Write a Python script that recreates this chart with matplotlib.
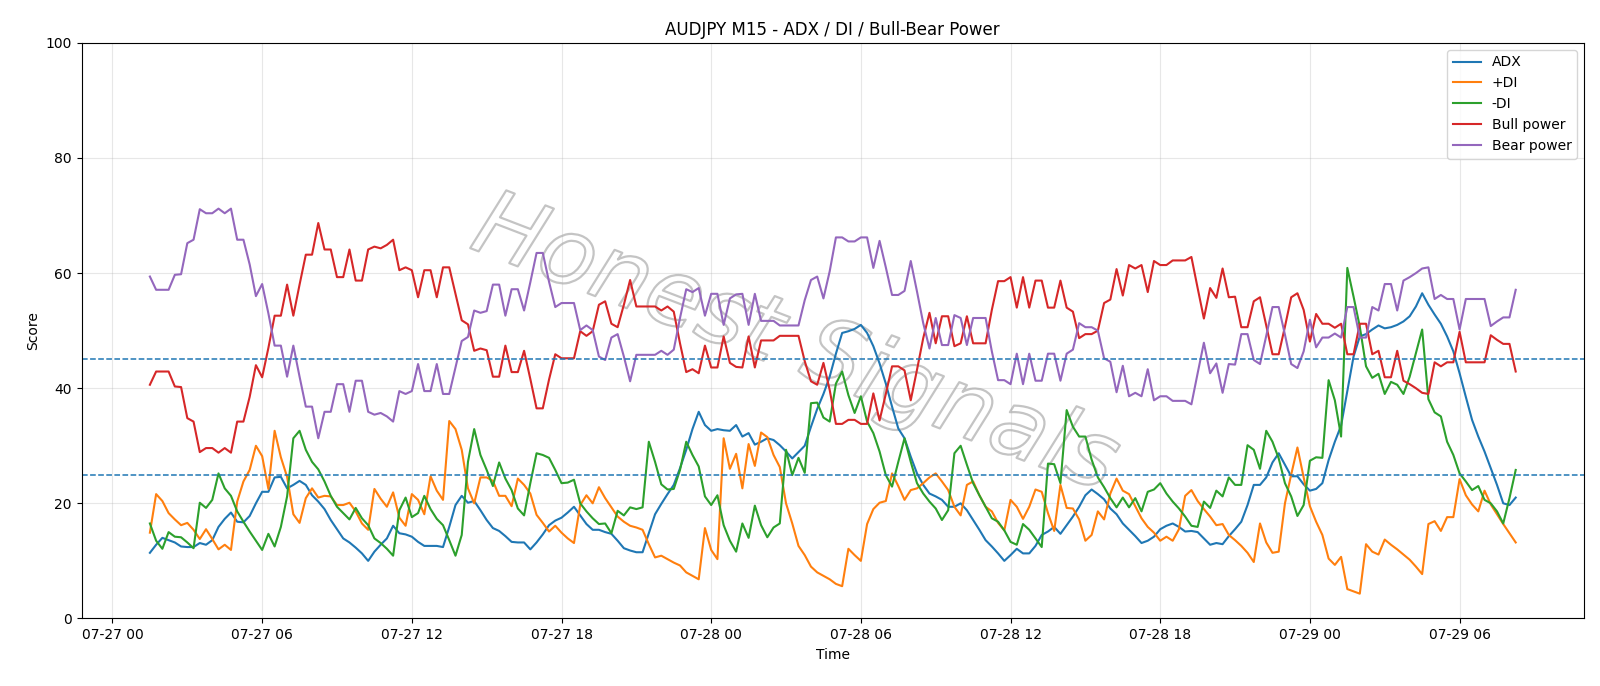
import numpy as np
import pandas as pd
import matplotlib
matplotlib.use("Agg")
import matplotlib.pyplot as plt
import matplotlib.dates as mdates
import matplotlib.patheffects as pe

# 15-minute bars, 07-27 01:30 .. 07-29 08:15
start_time = "2025-07-27 01:30"
n_bars = 220

adx = [
    11.4, 12.8, 14.0, 13.6, 13.2, 12.5, 12.4, 12.4, 13.1, 12.8,
    13.6, 15.9, 17.3, 18.4, 16.8, 16.7, 17.8, 20.0, 22.0, 22.0,
    24.5, 24.6, 22.6, 23.2, 23.9, 23.2, 21.4, 20.3, 19.0, 17.1,
    15.5, 13.9, 13.2, 12.3, 11.3, 10.0, 11.6, 12.8, 13.9, 16.1,
    14.8, 14.6, 14.2, 13.3, 12.6, 12.6, 12.6, 12.4, 15.9, 19.7,
    21.3, 20.1, 20.4, 18.8, 17.1, 15.7, 15.2, 14.3, 13.3, 13.2,
    13.2, 12.0, 13.2, 14.6, 16.2, 17.0, 17.5, 18.4, 19.4, 17.9,
    16.4, 15.4, 15.4, 15.0, 14.7, 13.5, 12.2, 11.8, 11.5, 11.5,
    14.8, 18.1, 19.9, 21.6, 23.2, 26.1, 29.3, 32.9, 35.9, 33.6,
    32.6, 32.9, 32.7, 32.6, 33.6, 31.6, 32.2, 30.2, 30.7, 31.3,
    31.0, 30.1, 29.0, 27.8, 28.9, 30.0, 33.3, 36.4, 39.0, 42.0,
    46.0, 49.6, 49.9, 50.3, 51.0, 49.6, 47.3, 44.3, 40.8, 36.8,
    33.0, 31.3, 28.1, 25.2, 23.2, 21.7, 21.2, 20.6, 19.4, 19.4,
    20.0, 18.8, 17.1, 15.4, 13.6, 12.5, 11.3, 10.0, 11.0, 12.1,
    11.3, 11.3, 12.6, 14.5, 15.1, 15.9, 14.7, 16.2, 17.7, 19.4,
    21.4, 22.4, 21.6, 20.7, 19.1, 18.1, 16.5, 15.4, 14.3, 13.1,
    13.5, 14.2, 15.5, 16.1, 16.5, 15.9, 15.1, 15.2, 15.0, 13.9,
    12.8, 13.1, 12.9, 14.3, 15.5, 16.8, 19.7, 23.2, 23.2, 24.5,
    27.1, 28.7, 26.7, 24.7, 24.7, 23.3, 22.2, 22.5, 23.5, 27.5,
    30.7, 33.5, 39.5, 45.5, 49.0, 49.4, 50.2, 50.9, 50.4, 50.6,
    51.0, 51.6, 52.5, 54.2, 56.5, 54.5, 52.8, 51.2, 49.0, 46.4,
    42.6, 38.5, 34.5, 31.6, 29.0, 26.1, 23.2, 20.0, 19.7, 21.0,
]

plus_di = [
    14.9, 21.6, 20.4, 18.3, 17.2, 16.2, 16.6, 15.4, 13.8, 15.5,
    13.8, 12.0, 12.8, 11.9, 20.3, 23.8, 25.8, 30.0, 28.2, 22.5,
    32.6, 28.0, 24.6, 18.1, 16.6, 20.9, 22.6, 21.0, 21.3, 21.2,
    19.7, 19.7, 20.1, 18.6, 16.5, 15.4, 22.5, 20.8, 19.4, 21.9,
    17.5, 16.1, 21.6, 20.6, 18.1, 24.7, 22.2, 20.6, 34.3, 32.9,
    29.3, 22.6, 20.0, 24.5, 24.5, 23.9, 21.3, 21.3, 19.5, 24.3,
    23.2, 21.7, 18.0, 16.6, 15.1, 16.1, 14.9, 13.9, 13.1, 19.7,
    21.4, 20.0, 22.8, 20.9, 19.3, 17.7, 16.8, 16.1, 15.8, 15.4,
    12.9, 10.6, 10.9, 10.3, 9.7, 9.2, 8.0, 7.4, 6.8, 15.7,
    11.9, 10.3, 31.3, 26.0, 28.6, 22.6, 30.3, 26.5, 32.3, 31.5,
    28.4, 26.3, 20.0, 16.5, 12.6, 11.0, 9.0, 8.0, 7.4, 6.8,
    6.0, 5.6, 12.1, 11.0, 10.0, 16.4, 19.0, 20.1, 20.4, 25.2,
    23.0, 20.6, 22.3, 22.6, 23.5, 24.5, 25.2, 23.8, 22.3, 19.4,
    17.9, 23.2, 23.8, 21.4, 19.4, 18.6, 16.6, 15.3, 20.6, 19.4,
    17.3, 19.4, 22.4, 22.0, 18.3, 15.2, 23.2, 19.2, 19.1, 17.2,
    13.5, 14.5, 18.6, 17.2, 21.7, 24.3, 22.2, 21.6, 19.5, 17.4,
    15.9, 14.9, 13.5, 14.2, 13.5, 15.5, 21.3, 22.3, 20.4, 19.0,
    17.7, 16.2, 16.4, 14.5, 13.6, 12.6, 11.4, 9.8, 16.5, 13.2,
    11.4, 11.6, 20.0, 25.0, 29.7, 24.5, 19.5, 16.8, 14.5, 10.4,
    9.3, 10.7, 5.1, 4.7, 4.3, 12.9, 11.6, 11.1, 13.7, 12.8,
    12.0, 11.1, 10.2, 9.0, 7.7, 16.4, 16.9, 15.2, 17.6, 17.6,
    24.2, 21.4, 19.8, 18.6, 22.2, 19.8, 18.1, 16.4, 14.8, 13.2,
]

minus_di = [
    16.5, 13.5, 12.1, 15.0, 14.2, 14.1, 13.2, 12.2, 20.1, 19.2,
    20.6, 25.2, 22.6, 21.3, 18.6, 16.8, 15.1, 13.5, 11.9, 14.7,
    12.5, 15.9, 21.2, 31.3, 32.6, 29.3, 27.2, 25.9, 23.8, 21.3,
    19.4, 18.3, 17.2, 19.2, 17.4, 16.2, 13.9, 13.1, 12.1, 10.9,
    18.8, 21.0, 17.6, 18.3, 21.3, 19.0, 17.3, 16.2, 13.6, 10.9,
    14.5, 27.2, 32.9, 28.4, 25.8, 23.0, 27.1, 24.3, 22.3, 19.1,
    17.9, 23.5, 28.7, 28.4, 27.9, 25.8, 23.5, 23.6, 24.1, 20.0,
    18.6, 17.4, 16.4, 16.5, 14.8, 18.7, 17.9, 19.3, 19.0, 19.3,
    30.7, 27.2, 23.3, 22.4, 22.5, 25.8, 30.7, 28.4, 26.4, 21.2,
    19.7, 21.4, 16.2, 13.5, 11.6, 16.5, 14.0, 19.6, 16.2, 14.1,
    15.8, 16.5, 29.3, 24.9, 27.9, 25.3, 37.4, 37.5, 34.9, 34.2,
    40.8, 42.9, 38.8, 35.7, 38.6, 34.2, 32.2, 29.0, 24.9, 22.9,
    27.2, 31.3, 27.2, 23.5, 21.7, 20.3, 19.1, 17.1, 18.8, 28.7,
    30.0, 26.7, 23.5, 21.4, 19.4, 17.4, 16.8, 15.3, 13.3, 12.8,
    16.4, 15.4, 13.9, 12.4, 26.9, 26.8, 23.5, 36.2, 33.3, 31.6,
    31.6, 27.6, 24.5, 22.8, 20.9, 19.3, 21.0, 19.3, 20.9, 18.6,
    22.0, 22.4, 23.5, 21.7, 20.3, 19.1, 17.7, 16.1, 15.9, 20.3,
    19.2, 22.2, 21.2, 24.5, 23.2, 23.2, 30.1, 29.3, 26.0, 32.6,
    30.7, 27.8, 23.5, 21.2, 17.8, 19.7, 27.4, 28.0, 27.9, 41.4,
    37.9, 31.6, 60.9, 55.9, 50.7, 43.8, 41.8, 42.5, 39.0, 41.1,
    40.6, 39.0, 42.0, 46.1, 50.2, 38.1, 35.8, 35.1, 30.7, 28.4,
    25.2, 23.8, 22.3, 23.0, 20.6, 20.0, 18.6, 16.5, 20.9, 25.8,
]

bull_power = [
    40.6, 42.9, 42.9, 42.9, 40.3, 40.2, 34.8, 34.2, 28.9, 29.6,
    29.6, 28.8, 29.6, 28.8, 34.2, 34.2, 38.5, 44.0, 41.9, 47.0,
    52.6, 52.6, 58.0, 52.6, 58.0, 63.2, 63.2, 68.7, 64.1, 64.1,
    59.3, 59.3, 64.1, 58.7, 58.7, 64.1, 64.6, 64.3, 64.9, 65.8,
    60.5, 61.0, 60.5, 55.8, 60.5, 60.5, 55.8, 61.0, 61.0, 56.4,
    51.8, 51.1, 46.5, 46.9, 46.6, 42.0, 42.0, 47.4, 42.8, 42.8,
    46.5, 41.6, 36.5, 36.5, 41.5, 45.9, 45.2, 45.2, 45.2, 49.9,
    49.1, 49.9, 54.5, 55.1, 51.2, 50.6, 54.5, 58.8, 54.2, 54.2,
    54.2, 54.2, 53.5, 54.2, 53.3, 47.8, 42.8, 43.3, 42.6, 47.4,
    43.6, 43.6, 49.0, 44.4, 43.7, 43.6, 49.0, 43.6, 48.3, 48.3,
    48.3, 49.1, 49.1, 49.1, 49.1, 44.7, 41.2, 40.6, 44.4, 39.7,
    33.8, 33.8, 34.5, 34.5, 33.8, 33.8, 39.1, 34.4, 39.0, 43.8,
    43.8, 43.1, 37.9, 43.2, 48.7, 53.1, 47.8, 52.5, 52.5, 47.3,
    47.8, 52.5, 47.8, 47.8, 47.8, 53.6, 58.6, 58.6, 59.3, 54.0,
    59.3, 54.0, 58.7, 58.7, 54.0, 54.0, 58.7, 54.0, 53.3, 48.7,
    49.4, 49.4, 50.0, 54.8, 55.4, 60.7, 56.1, 61.4, 60.8, 61.4,
    56.7, 62.1, 61.4, 61.4, 62.2, 62.2, 62.2, 62.8, 57.4, 52.1,
    57.4, 55.7, 60.8, 55.8, 55.9, 50.6, 50.6, 55.1, 55.8, 50.9,
    45.9, 45.9, 50.7, 55.8, 56.5, 53.6, 48.1, 52.9, 51.2, 51.2,
    50.5, 51.2, 45.9, 45.9, 51.2, 51.2, 45.9, 46.5, 41.9, 41.9,
    46.5, 41.3, 40.7, 40.0, 39.2, 39.0, 44.5, 43.8, 44.5, 44.5,
    49.8, 44.5, 44.5, 44.5, 44.5, 49.2, 48.4, 47.7, 47.7, 42.9,
]

bear_power = [
    59.4, 57.1, 57.1, 57.1, 59.7, 59.8, 65.2, 65.8, 71.1, 70.4,
    70.4, 71.2, 70.4, 71.2, 65.8, 65.8, 61.5, 56.0, 58.1, 53.0,
    47.4, 47.4, 42.0, 47.4, 42.0, 36.8, 36.8, 31.3, 35.9, 35.9,
    40.7, 40.7, 35.9, 41.3, 41.3, 35.9, 35.4, 35.7, 35.1, 34.2,
    39.5, 39.0, 39.5, 44.2, 39.5, 39.5, 44.2, 39.0, 39.0, 43.6,
    48.2, 48.9, 53.5, 53.1, 53.4, 58.0, 58.0, 52.6, 57.2, 57.2,
    53.5, 58.4, 63.5, 63.5, 58.5, 54.1, 54.8, 54.8, 54.8, 50.1,
    50.9, 50.1, 45.5, 44.9, 48.8, 49.4, 45.5, 41.2, 45.8, 45.8,
    45.8, 45.8, 46.5, 45.8, 46.7, 52.2, 57.2, 56.7, 57.4, 52.6,
    56.4, 56.4, 51.0, 55.6, 56.3, 56.4, 51.0, 56.4, 51.7, 51.7,
    51.7, 50.9, 50.9, 50.9, 50.9, 55.3, 58.8, 59.4, 55.6, 60.3,
    66.2, 66.2, 65.5, 65.5, 66.2, 66.2, 60.9, 65.6, 61.0, 56.2,
    56.2, 56.9, 62.1, 56.8, 51.3, 46.9, 52.2, 47.5, 47.5, 52.7,
    52.2, 47.5, 52.2, 52.2, 52.2, 46.4, 41.4, 41.4, 40.7, 46.0,
    40.7, 46.0, 41.3, 41.3, 46.0, 46.0, 41.3, 46.0, 46.7, 51.3,
    50.6, 50.6, 50.0, 45.2, 44.6, 39.3, 43.9, 38.6, 39.2, 38.6,
    43.3, 37.9, 38.6, 38.6, 37.8, 37.8, 37.8, 37.2, 42.6, 47.9,
    42.6, 44.3, 39.2, 44.2, 44.1, 49.4, 49.4, 44.9, 44.2, 49.1,
    54.1, 54.1, 49.3, 44.2, 43.5, 46.4, 51.9, 47.1, 48.8, 48.8,
    49.5, 48.8, 54.1, 54.1, 48.8, 48.8, 54.1, 53.5, 58.1, 58.1,
    53.5, 58.7, 59.3, 60.0, 60.8, 61.0, 55.5, 56.2, 55.5, 55.5,
    50.2, 55.5, 55.5, 55.5, 55.5, 50.8, 51.6, 52.3, 52.3, 57.1,
]

upper_level = 45
lower_level = 25


def main():
    times = pd.date_range(start_time, periods=n_bars, freq="15min")

    fig, ax = plt.subplots(figsize=(16, 6.86), dpi=100)
    fig.subplots_adjust(left=0.051, right=0.990, top=0.9375, bottom=0.0985)

    ax.plot(times, adx, label="ADX", linewidth=1.5)
    ax.plot(times, plus_di, label="+DI", linewidth=1.5)
    ax.plot(times, minus_di, label="-DI", linewidth=1.5)
    ax.plot(times, bull_power, label="Bull power", color="tab:red", linewidth=1.5)
    ax.plot(times, bear_power, label="Bear power", color="tab:purple", linewidth=1.5)

    ax.axhline(upper_level, linestyle="--", linewidth=1.1, color="tab:blue")
    ax.axhline(lower_level, linestyle="--", linewidth=1.1, color="tab:blue")

    # watermark: hollow grey letters
    ax.text(0.475, 0.475, "Honest Signals", transform=ax.transAxes,
            fontsize=66, rotation=-21, color="none",
            style="italic", ha="center", va="center", zorder=0,
            path_effects=[pe.Stroke(linewidth=1.6, foreground="#c4c4c4")])

    ax.set_ylim(0, 100)
    ax.xaxis.set_major_locator(mdates.HourLocator(byhour=[0, 6, 12, 18]))
    ax.xaxis.set_major_formatter(mdates.DateFormatter("%m-%d %H"))
    ax.set_title("AUDJPY M15 - ADX / DI / Bull-Bear Power")
    ax.set_xlabel("Time")
    ax.set_ylabel("Score")
    ax.grid(alpha=0.3)
    ax.legend(loc="upper right")

    fig.savefig("out.png", dpi=100)
    plt.close(fig)


if __name__ == "__main__":
    main()
